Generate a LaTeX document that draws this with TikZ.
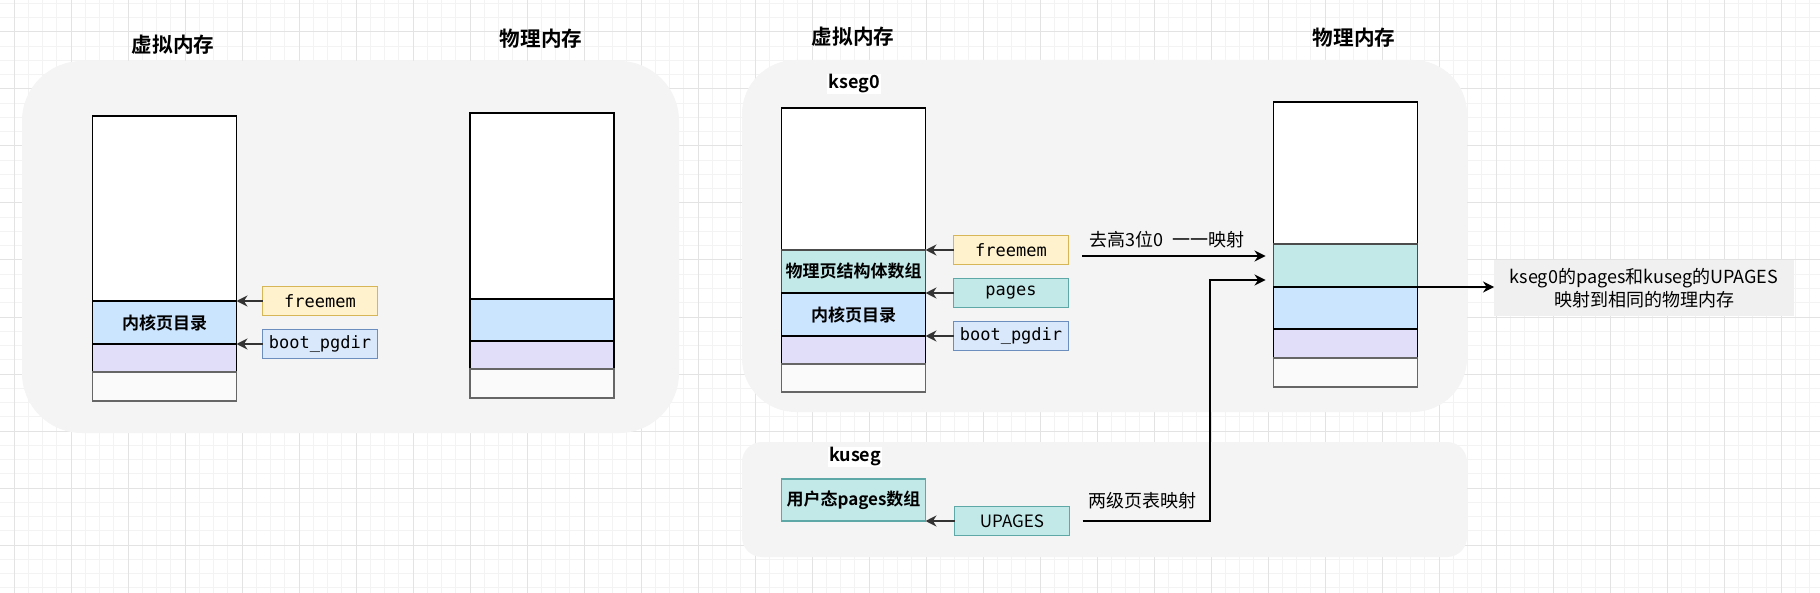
\documentclass[tikz,border=0pt]{standalone}
\usepackage{fontspec}
\setmainfont{Noto Sans CJK SC}[BoldFont={* Bold}]
\setmonofont{DejaVu Sans Mono}
\usepackage{tikz}
\usetikzlibrary{positioning, arrows.meta}
\definecolor{panelgray}{HTML}{F4F4F4}
\definecolor{tealfill}{HTML}{C2E8E8}
\definecolor{tealline}{HTML}{5FA8A8}
\definecolor{bluefill}{HTML}{CCE5FF}
\definecolor{lblue}{HTML}{DAE8FC}
\definecolor{lblueline}{HTML}{6C8EBF}
\definecolor{yelfill}{HTML}{FFF2CC}
\definecolor{yelline}{HTML}{D6B656}
\definecolor{purfill}{HTML}{E0DEF8}
\definecolor{greyfill}{HTML}{FAFAFA}
\definecolor{notefill}{HTML}{F0F0F0}
\definecolor{gridminor}{HTML}{F3F3F3}
\definecolor{gridmajor}{HTML}{E3E3E3}

\begin{document}
\begin{tikzpicture}[x=0.5pt, y=-0.5pt, node distance=0pt,
  every node/.style={font=\fontsize{9}{11.5}\selectfont, align=center, inner sep=0pt, outer sep=0pt},
  title/.style={font=\bfseries\fontsize{10.3}{12}\selectfont},
  seglbl/.style={font=\bfseries\fontsize{9}{11}\selectfont, fill=white, inner sep=0.5pt},
  seg/.style={draw=black, line width=0.7pt, minimum width=72pt, font=\bfseries\fontsize{8.5}{11}\selectfont},
  lbl/.style={draw, line width=0.6pt, minimum width=57.5pt, minimum height=14.5pt, font=\ttfamily\fontsize{8.5}{10}\selectfont},
  arr/.style={-{Stealth[length=5.5pt, width=5.5pt]}, line width=0.65pt}]
\useasboundingbox (0,0) rectangle (1820,593);
\fill[white] (0,0) rectangle (1820,593);
\foreach \i in {0,...,128} \draw[gridminor, line width=0.5pt] ({-0.25+14.25*\i},0) -- ++(0,593);
\foreach \j in {0,...,41} \draw[gridminor, line width=0.5pt] (0,{3.5+14.25*\j}) -- ++(1820,0);
\foreach \i in {0,...,31} \draw[gridmajor, line width=0.5pt] ({14+57*\i},0) -- ++(0,593);
\foreach \j in {0,...,9} \draw[gridmajor, line width=0.5pt] (0,{32+57*\j}) -- ++(1820,0);

\fill[panelgray, rounded corners=30pt] (22,61) rectangle (679,433);
\fill[panelgray, rounded corners=27pt] (742,60) rectangle (1467,412);
\fill[panelgray, rounded corners=10pt] (742,442) rectangle (1467,557);

\node[title] (t1) at (173,45) {虚拟内存};
\node[title] (t2) at (541,39) {物理内存};
\node[title] (t3) at (853,37) {虚拟内存};
\node[title] (t4) at (1354,38) {物理内存};

\node[seg, fill=white, minimum height=92.5pt, anchor=north] (vw1) at (164.5,116) {};
\node[seg, fill=bluefill, minimum height=21.5pt, below=of vw1] (vb1) {内核页目录};
\node[seg, fill=purfill, minimum height=14pt, below=of vb1] (vp1) {};
\node[seg, draw=black!60, fill=greyfill, minimum height=14.5pt, below=of vp1] (vg1) {};
\node[lbl, draw=yelline, fill=yelfill, right=13pt of vb1.north east, anchor=west] (fm1) {freemem};
\node[lbl, draw=lblueline, fill=lblue, right=13pt of vp1.north east, anchor=west] (bp1) {boot\_pgdir};
\draw[arr, black!80] (fm1) -- (vb1.north east);
\draw[arr, black!80] (bp1) -- (vp1.north east);

\node[seg, fill=white, minimum height=93pt, anchor=north] (pw1) at (542,113) {};
\node[seg, fill=bluefill, minimum height=21pt, below=of pw1] (pb1) {};
\node[seg, fill=purfill, minimum height=14pt, below=of pb1] (pp1) {};
\node[seg, draw=black!60, fill=greyfill, minimum height=14.5pt, below=of pp1] (pg1) {};

\node[seglbl] (k0) at (854,84) {kseg0};
\node[seg, fill=white, minimum height=71pt, anchor=north] (vw2) at (853.5,108) {};
\node[seg, draw=black!70, fill=tealfill, minimum height=21.5pt, below=of vw2] (vt2) {物理页结构体数组};
\node[seg, fill=bluefill, minimum height=21.5pt, below=of vt2] (vb2) {内核页目录};
\node[seg, fill=purfill, minimum height=14pt, below=of vb2] (vp2) {};
\node[seg, draw=black!60, fill=greyfill, minimum height=14pt, below=of vp2] (vg2) {};
\node[lbl, draw=yelline, fill=yelfill, right=14pt of vt2.north east, anchor=west] (fm2) {freemem};
\node[lbl, draw=tealline, fill=tealfill, right=14pt of vb2.north east, anchor=west] (pg2) {pages};
\node[lbl, draw=lblueline, fill=lblue, right=14pt of vp2.north east, anchor=west] (bp2) {boot\_pgdir};
\draw[arr, black!80] (fm2) -- (vt2.north east);
\draw[arr, black!80] (pg2) -- (vb2.north east);
\draw[arr, black!80] (bp2) -- (vp2.north east);

\node[seg, fill=white, minimum height=71pt, anchor=north] (pw2) at (1345.5,102) {};
\node[seg, draw=black!70, fill=tealfill, minimum height=21.5pt, below=of pw2] (pt2) {};
\node[seg, fill=bluefill, minimum height=21pt, below=of pt2] (pb2) {};
\node[seg, fill=purfill, minimum height=14.5pt, below=of pb2] (pp2) {};
\node[seg, draw=black!60, fill=greyfill, minimum height=14.5pt, below=of pp2] (pg2p) {};

\node[seglbl] (ku) at (855,457) {kuseg};
\node[seg, draw=tealline, fill=tealfill, minimum height=21pt] (ua) at (853.5,500) {用户态pages数组};
\node[lbl, draw=tealline, fill=tealfill, font=\fontsize{8.5}{10}\selectfont, right=14.5pt of ua.south east, anchor=west] (up) {UPAGES};
\draw[arr, black!80] (up) -- (ua.south east);

\coordinate (m1) at (1082,256);
\coordinate (bend) at (1210,280);
\draw[arr, shorten >=4pt] (m1) -- (m1 -| pt2.west);
\draw[arr, shorten >=4pt] ([xshift=6.5pt]up.east) -| (bend) -- (bend -| pt2.west);
\node (lm1) at (1167,240) {去高3位0\ \ 一一映射};
\node (lm2) at (1142,501) {两级页表映射};

\node[fill=notefill, minimum width=150pt, minimum height=28pt] (note) at (1644,288) {kseg0的pages和kuseg的UPAGES\\映射到相同的物理内存};
\draw[arr] ([xshift=-3.5pt]pb2.north east) -- (pb2.north east -| note.west);
\end{tikzpicture}
\end{document}
